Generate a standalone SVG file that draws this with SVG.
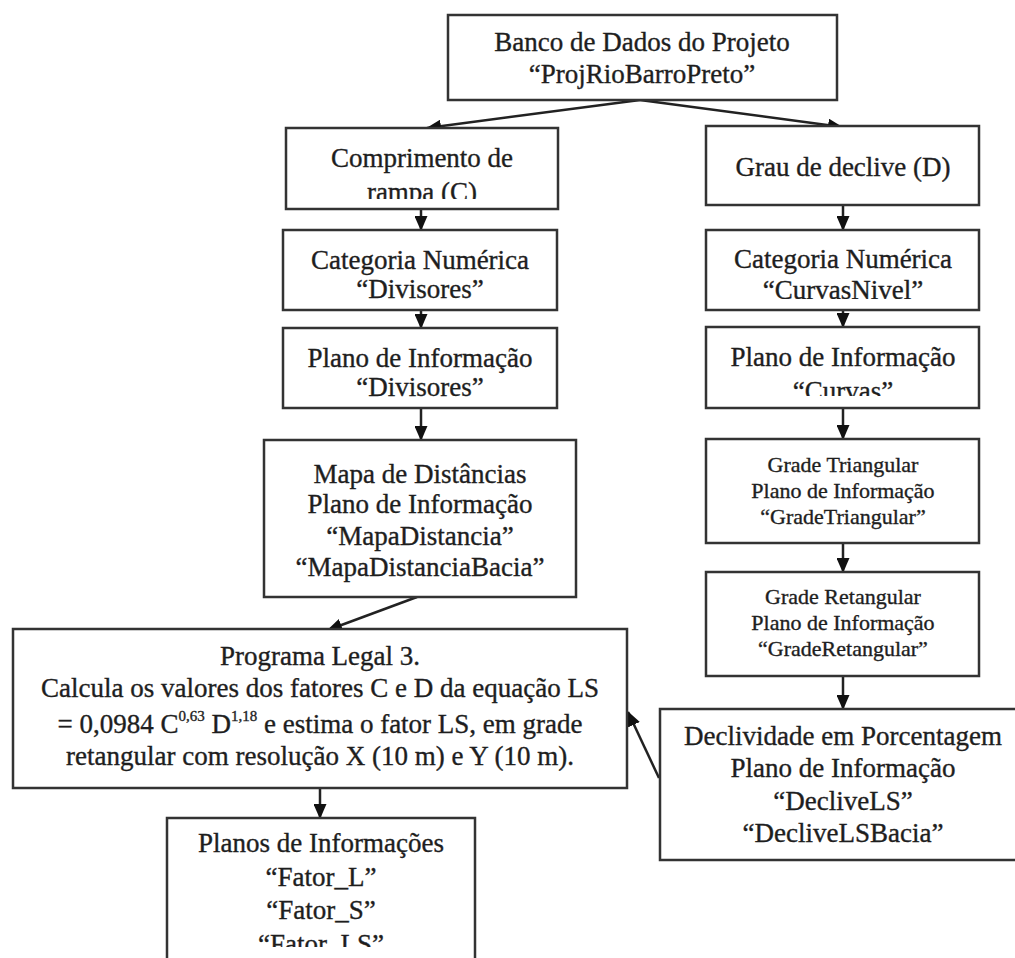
<svg xmlns="http://www.w3.org/2000/svg" width="1015" height="958" viewBox="0 0 1015 958">
  <style>
    .box { fill: #ffffff; stroke: #333333; stroke-width: 2.5; }
    .t { font-family: "Liberation Serif", "Times New Roman", serif; font-size: 27px; fill: #1e1e1e; stroke: #1e1e1e; stroke-width: 0.35; text-anchor: middle; }
    .s { font-size: 22px; }
    .sup { font-size: 15px; }
    .edge { fill: none; stroke: #222222; stroke-width: 2.5; marker-end: url(#arrow); }
  </style>
  <defs>
    <marker id="arrow" viewBox="0 0 15 13" refX="14" refY="6.5" markerWidth="15" markerHeight="13" markerUnits="userSpaceOnUse" orient="auto">
      <path d="M0,0 L15,6.5 L0,13 Z" fill="#111111"/>
    </marker>
    <clipPath id="clip-comp"><rect x="286" y="128" width="272" height="71"/></clipPath>
    <clipPath id="clip-catcurvas"><rect x="706" y="230" width="273" height="69"/></clipPath>
    <clipPath id="clip-curvas"><rect x="706" y="327" width="273" height="69"/></clipPath>
    <clipPath id="clip-planos"><rect x="167" y="818" width="308" height="129"/></clipPath>
  </defs>

  <rect width="1015" height="958" fill="#ffffff"/>

  <g id="connectors">
    <line class="edge" x1="640" y1="100" x2="427" y2="128"/>
    <line class="edge" x1="640" y1="100" x2="842" y2="127"/>
    <line class="edge" x1="421" y1="209" x2="421" y2="230"/>
    <line class="edge" x1="421" y1="310" x2="421" y2="328"/>
    <line class="edge" x1="421" y1="408" x2="421" y2="440"/>
    <line class="edge" x1="417" y1="597" x2="328" y2="630"/>
    <line class="edge" x1="843" y1="205" x2="843" y2="230"/>
    <line class="edge" x1="843" y1="310" x2="843" y2="327"/>
    <line class="edge" x1="843" y1="408" x2="843" y2="439"/>
    <line class="edge" x1="843" y1="543" x2="843" y2="572"/>
    <line class="edge" x1="843" y1="676" x2="843" y2="709"/>
    <line class="edge" x1="659" y1="778" x2="628" y2="712"/>
    <line class="edge" x1="320" y1="788" x2="320" y2="818"/>
  </g>

  <g id="banco">
    <rect class="box" x="448" y="15" width="389" height="85"/>
    <text class="t" x="642" y="51">Banco de Dados do Projeto</text>
    <text class="t" x="642" y="83">“ProjRioBarroPreto”</text>
  </g>

  <g id="comprimento">
    <rect class="box" x="286" y="128" width="272" height="81"/>
    <text class="t" x="422" y="167">Comprimento de</text>
    <text class="t" x="422" y="201" clip-path="url(#clip-comp)">rampa (C)</text>
  </g>

  <g id="cat-divisores">
    <rect class="box" x="283" y="230" width="274" height="80"/>
    <text class="t" x="420" y="269">Categoria Numérica</text>
    <text class="t" x="420" y="298">“Divisores”</text>
  </g>

  <g id="pi-divisores">
    <rect class="box" x="283" y="328" width="274" height="80"/>
    <text class="t" x="420" y="367">Plano de Informação</text>
    <text class="t" x="420" y="396">“Divisores”</text>
  </g>

  <g id="mapa">
    <rect class="box" x="264" y="440" width="312" height="157"/>
    <text class="t" x="420" y="483">Mapa de Distâncias</text>
    <text class="t" x="420" y="513">Plano de Informação</text>
    <text class="t" x="420" y="545">“MapaDistancia”</text>
    <text class="t" x="420" y="576">“MapaDistanciaBacia”</text>
  </g>

  <g id="programa">
    <rect class="box" x="13" y="629" width="614" height="159"/>
    <text class="t" x="320" y="665">Programa Legal 3.</text>
    <text class="t" x="320" y="697">Calcula os valores dos fatores C e D da equação LS</text>
    <text class="t" x="320" y="733">= 0,0984 C<tspan class="sup" dy="-12">0,63</tspan><tspan dy="12"> D</tspan><tspan class="sup" dy="-12">1,18</tspan><tspan dy="12"> e estima o fator LS, em grade</tspan></text>
    <text class="t" x="320" y="765">retangular com resolução X (10 m) e Y (10 m).</text>
  </g>

  <g id="planos">
    <rect class="box" x="167" y="818" width="308" height="160"/>
    <g clip-path="url(#clip-planos)">
      <text class="t" x="321" y="852">Planos de Informações</text>
      <text class="t" x="321" y="886">“Fator_L”</text>
      <text class="t" x="321" y="919">“Fator_S”</text>
      <text class="t" x="321" y="953">“Fator_LS”</text>
    </g>
  </g>

  <g id="grau">
    <rect class="box" x="706" y="126" width="273" height="79"/>
    <text class="t" x="843" y="176">Grau de declive (D)</text>
  </g>

  <g id="cat-curvas">
    <rect class="box" x="706" y="230" width="273" height="80"/>
    <text class="t" x="843" y="268">Categoria Numérica</text>
    <text class="t" x="843" y="299" clip-path="url(#clip-catcurvas)">“CurvasNivel”</text>
  </g>

  <g id="pi-curvas">
    <rect class="box" x="706" y="327" width="273" height="81"/>
    <text class="t" x="843" y="366">Plano de Informação</text>
    <text class="t" x="843" y="400" clip-path="url(#clip-curvas)">“Curvas”</text>
  </g>

  <g id="grade-triangular">
    <rect class="box" x="706" y="439" width="273" height="104"/>
    <text class="t s" x="843" y="472">Grade Triangular</text>
    <text class="t s" x="843" y="498">Plano de Informação</text>
    <text class="t s" x="843" y="524">“GradeTriangular”</text>
  </g>

  <g id="grade-retangular">
    <rect class="box" x="706" y="572" width="273" height="104"/>
    <text class="t s" x="843" y="604">Grade Retangular</text>
    <text class="t s" x="843" y="630">Plano de Informação</text>
    <text class="t s" x="843" y="656">“GradeRetangular”</text>
  </g>

  <g id="declividade">
    <rect class="box" x="660" y="709" width="370" height="151"/>
    <text class="t" x="843" y="745">Declividade em Porcentagem</text>
    <text class="t" x="843" y="777">Plano de Informação</text>
    <text class="t" x="843" y="810">“DecliveLS”</text>
    <text class="t" x="843" y="842">“DecliveLSBacia”</text>
  </g>
</svg>
